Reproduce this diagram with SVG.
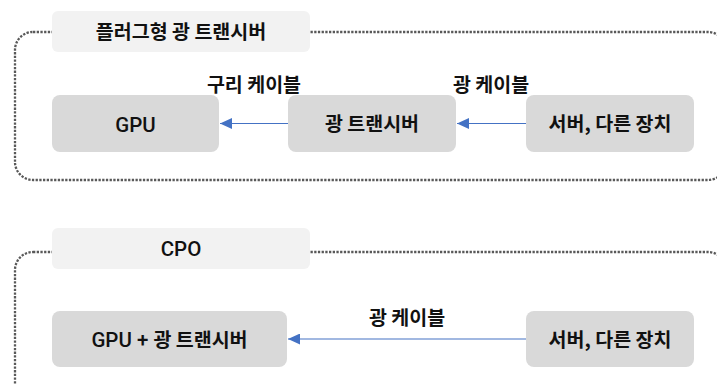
<svg xmlns="http://www.w3.org/2000/svg" width="717" height="385" viewBox="0 0 717 385">
<defs>
<style>
.frame{fill:none;stroke:#595959;stroke-width:2.3;stroke-dasharray:2.3 1.4}
.title{fill:#f2f2f2}
.node{fill:#d9d9d9}
.t{font-family:"Noto Sans CJK KR","Noto Sans",sans-serif;font-size:19.5px;fill:#111111;text-anchor:middle;font-weight:700}
.lat{font-family:Roboto,"Noto Sans",sans-serif;font-weight:500;font-size:20.5px}
.edge{stroke:#4472c4;stroke-width:1.2;fill:none}
</style>
<marker id="ah" viewBox="0 0 12 11" refX="12" refY="5.5" markerWidth="12" markerHeight="11" markerUnits="userSpaceOnUse" orient="auto">
<path d="M0,0 L12,5.5 L0,11 Z" fill="#4472c4"/>
</marker>
</defs>
<rect width="717" height="385" fill="#ffffff"/>
<g id="frame-top"><rect class="frame" x="15" y="32" width="711" height="148" rx="18"/></g>
<g id="frame-bottom"><rect class="frame" x="15" y="252" width="711" height="160" rx="18"/></g>
<g id="title-plug"><rect class="title" x="52" y="11" width="258" height="41" rx="6"/><text class="t" x="181" y="38.5">플러그형 광 트랜시버</text></g>
<g id="title-cpo"><rect class="title" x="52" y="228" width="258" height="41" rx="6"/><text class="t" x="181" y="255.5"><tspan class="lat">CPO</tspan></text></g>
<g id="gpu"><rect class="node" x="52" y="95" width="167" height="57" rx="8"/><text class="t" x="135.5" y="131.5"><tspan class="lat">GPU</tspan></text></g>
<g id="transceiver"><rect class="node" x="288" y="95" width="168" height="57" rx="8"/><text class="t" x="372" y="130.5">광 트랜시버</text></g>
<g id="server-top"><rect class="node" x="526" y="95" width="168" height="57" rx="8"/><text class="t" x="610" y="130.5">서버, 다른 장치</text></g>
<g id="gpu-transceiver"><rect class="node" x="52" y="311" width="235" height="56" rx="8"/><text class="t" x="169.5" y="346.5"><tspan class="lat">GPU + </tspan>광 트랜시버</text></g>
<g id="server-bottom"><rect class="node" x="526" y="311" width="168" height="56" rx="8"/><text class="t" x="610" y="346.5">서버, 다른 장치</text></g>
<g id="connectors">
<line class="edge" x1="288" y1="123.5" x2="220" y2="123.5" marker-end="url(#ah)"/>
<line class="edge" x1="526" y1="123.5" x2="457" y2="123.5" marker-end="url(#ah)"/>
<line class="edge" x1="526" y1="339" x2="288" y2="339" marker-end="url(#ah)"/>
<text class="t" x="254" y="92">구리 케이블</text>
<text class="t" x="491" y="92">광 케이블</text>
<text class="t" x="407" y="325">광 케이블</text>
</g>
</svg>
